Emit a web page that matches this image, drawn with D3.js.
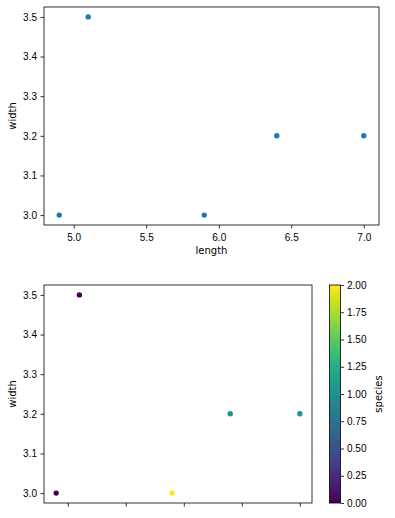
<!DOCTYPE html>
<html>
<head>
<meta charset="utf-8">
<script src="https://cdn.jsdelivr.net/npm/d3@7"></script>
<style>
  body { margin: 0; background: #fff; }
  svg { display: block; font-family: "DejaVu Sans", sans-serif; }
  .tick text { font-size: 10px; fill: #000; }
</style>
</head>
<body>
<svg id="chart" width="395" height="518"></svg>
<script>
// data
const lengths = [5.1, 4.9, 7.0, 6.4, 5.9];
const widths = [3.5, 3.0, 3.2, 3.2, 3.0];
const species = [0, 0, 1, 1, 2];
const xTicks = [5.0, 5.5, 6.0, 6.5, 7.0];
const yTicks = [3.0, 3.1, 3.2, 3.3, 3.4, 3.5];
const cbTicks = [0, 0.25, 0.5, 0.75, 1.0, 1.25, 1.5, 1.75, 2.0];

const points = lengths.map((l, i) => ({ length: l, width: widths[i], species: species[i] }));

const svg = d3.select('#chart');

// matplotlib style 5% margins
function padded(ext) {
  const pad = (ext[1] - ext[0]) * 0.05;
  return [ext[0] - pad, ext[1] + pad];
}
const xDomain = padded(d3.extent(lengths));
const yDomain = padded(d3.extent(widths));

function drawPanel(box, opts) {
  const x = d3.scaleLinear().domain(xDomain).range([box.left, box.right]);
  const y = d3.scaleLinear().domain(yDomain).range([box.bottom, box.top]);
  const g = svg.append('g');

  const xAxis = d3.axisBottom(x).tickValues(xTicks).tickSizeOuter(0).tickSize(3.5).tickPadding(5)
    .tickFormat(opts.xLabels ? d3.format('.1f') : '');
  g.append('g')
    .attr('transform', `translate(0,${box.bottom})`)
    .call(xAxis)
    .call(a => a.select('.domain').remove());

  g.append('g')
    .attr('transform', `translate(${box.left},0)`)
    .call(d3.axisLeft(y).tickValues(yTicks).tickSizeOuter(0).tickSize(3.5).tickPadding(3.5)
      .tickFormat(d3.format('.1f')))
    .call(a => a.select('.domain').remove());

  g.selectAll('.tick line').attr('stroke', '#000').attr('stroke-width', 0.8);

  g.selectAll('.dot')
    .data(points)
    .enter()
    .append('circle')
    .classed('dot', true)
    .attr('cx', d => x(d.length))
    .attr('cy', d => y(d.width))
    .attr('r', 2.7)
    .attr('fill', opts.color);

  g.append('rect')
    .attr('x', box.left).attr('y', box.top)
    .attr('width', box.right - box.left).attr('height', box.bottom - box.top)
    .attr('fill', 'none').attr('stroke', '#000').attr('stroke-width', 0.8);

  g.append('text')
    .attr('transform', `translate(12,${(box.top + box.bottom) / 2}) rotate(-90)`)
    .attr('text-anchor', 'middle').attr('dominant-baseline', 'central')
    .attr('font-size', 10).text('width');

  if (opts.xLabels) {
    g.append('text')
      .attr('x', (box.left + box.right) / 2).attr('y', box.bottom + 29)
      .attr('text-anchor', 'middle')
      .attr('font-size', 10).text('length');
  }
}

const color = d3.scaleSequential(d3.interpolateViridis).domain([0, 2]);

drawPanel({ left: 44, right: 379, top: 7, bottom: 225 }, { xLabels: true, color: '#1f77b4' });
drawPanel({ left: 44, right: 312, top: 285, bottom: 503 }, { xLabels: false, color: d => color(d.species) });

// colorbar
const cb = { left: 329.5, right: 340.5, top: 285, bottom: 503 };
const grad = svg.append('defs').append('linearGradient')
  .attr('id', 'viridis').attr('x1', 0).attr('y1', 1).attr('x2', 0).attr('y2', 0);
d3.range(0, 1.0001, 0.05).forEach(t => {
  grad.append('stop').attr('offset', t).attr('stop-color', d3.interpolateViridis(t));
});
svg.append('rect')
  .attr('x', cb.left).attr('y', cb.top)
  .attr('width', cb.right - cb.left).attr('height', cb.bottom - cb.top)
  .attr('fill', 'url(#viridis)').attr('stroke', '#000').attr('stroke-width', 0.8);

const cy = d3.scaleLinear().domain([0, 2]).range([cb.bottom, cb.top]);
svg.append('g')
  .attr('transform', `translate(${cb.right},0)`)
  .call(d3.axisRight(cy).tickValues(cbTicks).tickSizeOuter(0).tickSize(3.5).tickPadding(3)
    .tickFormat(d3.format('.2f')))
  .call(a => a.select('.domain').remove())
  .call(a => a.selectAll('.tick line').attr('stroke', '#000').attr('stroke-width', 0.8));

svg.append('text')
  .attr('transform', `translate(378,${(cb.top + cb.bottom) / 2}) rotate(-90)`)
  .attr('text-anchor', 'middle').attr('dominant-baseline', 'central')
  .attr('font-size', 10).text('species');
</script>
</body>
</html>
